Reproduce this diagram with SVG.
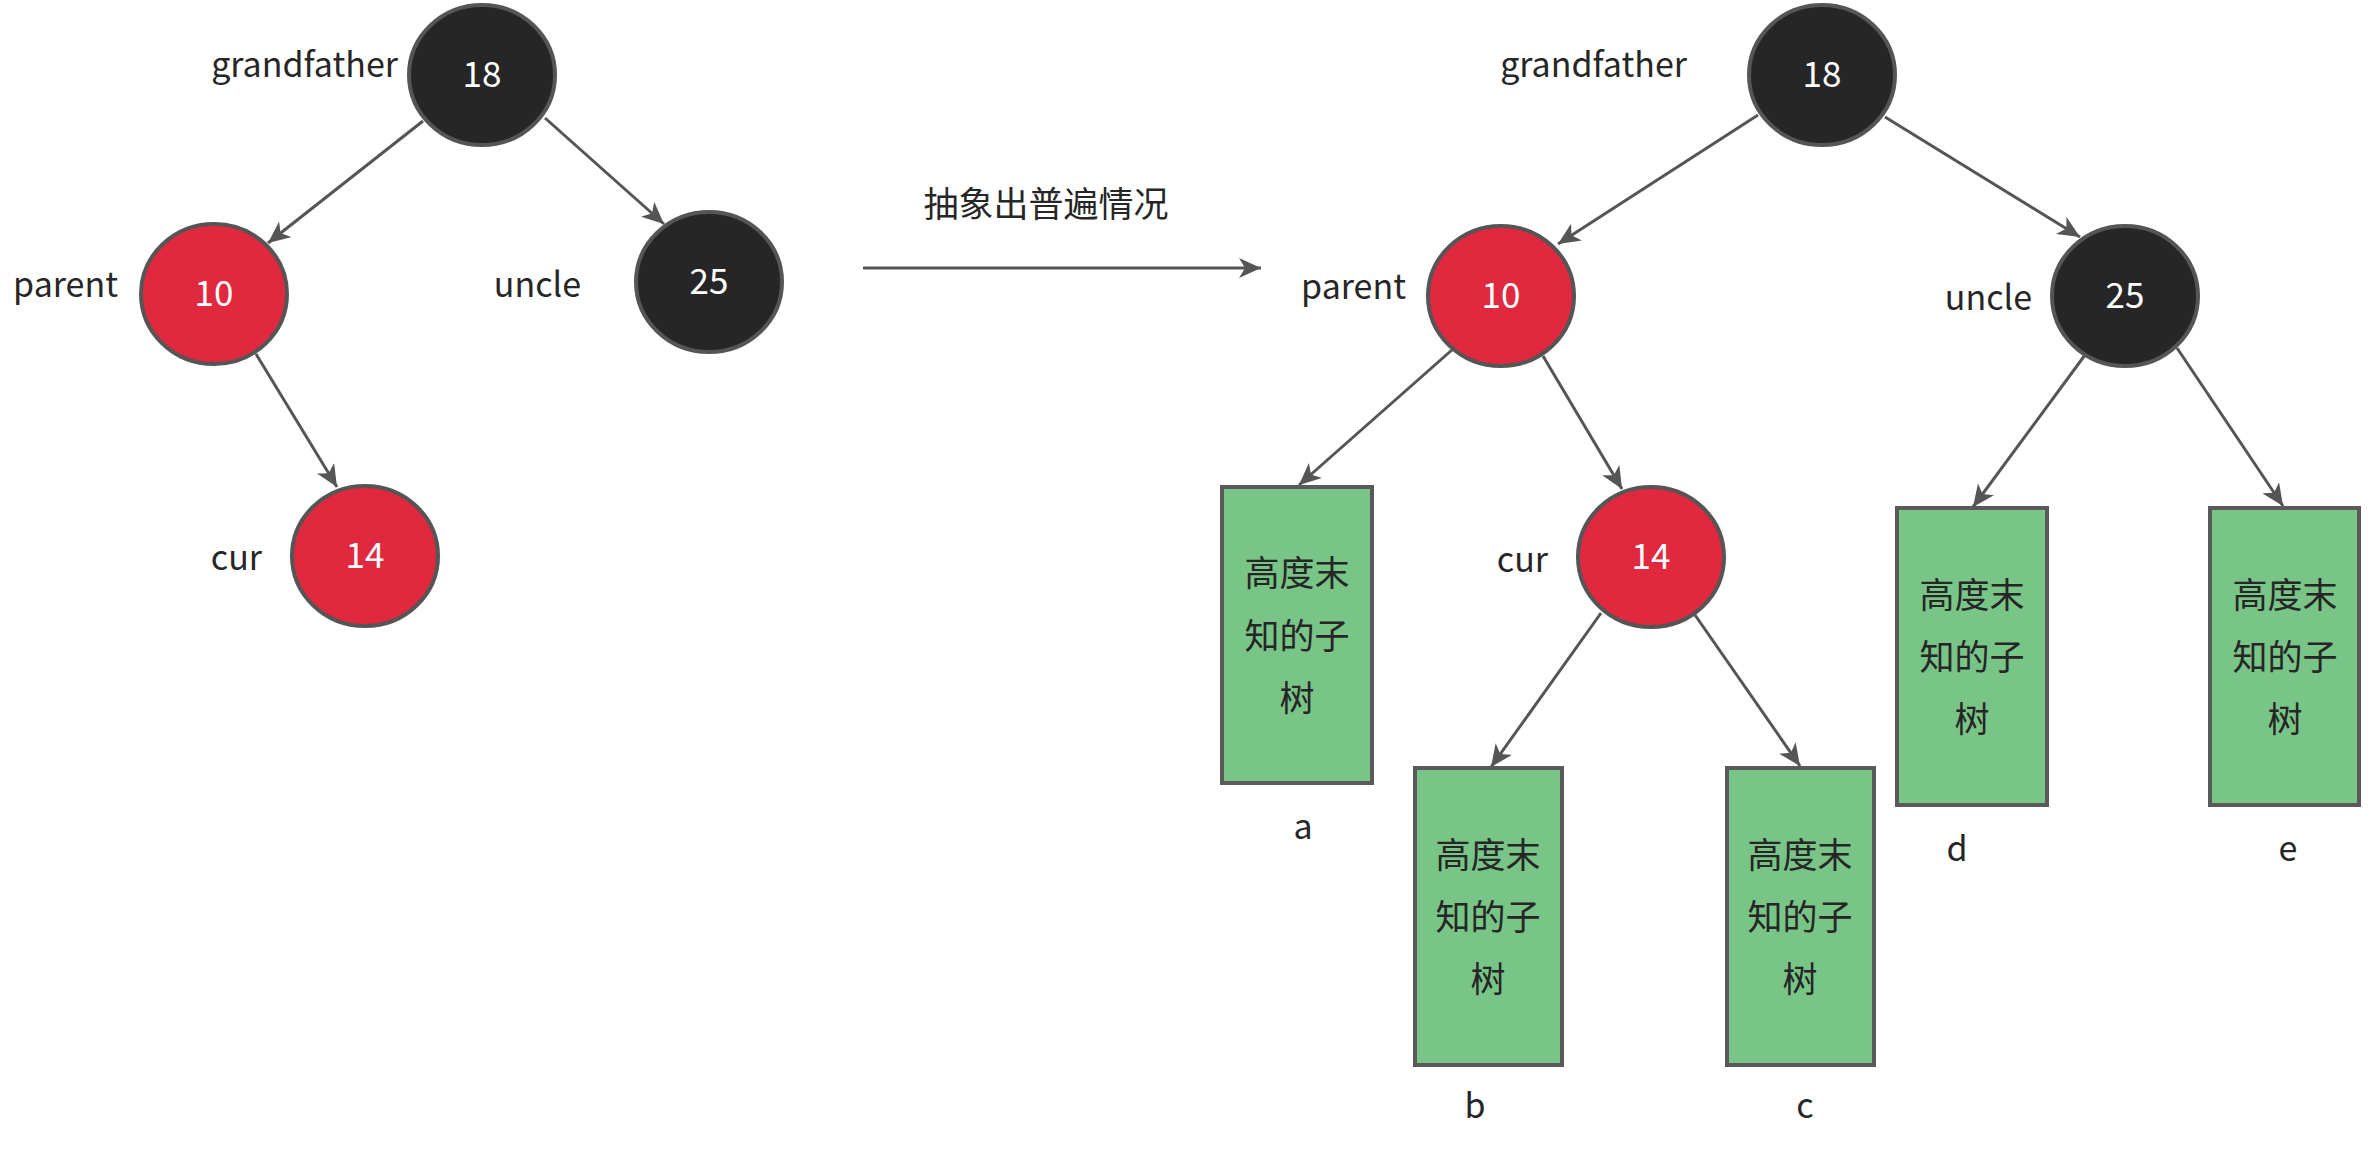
<svg xmlns="http://www.w3.org/2000/svg" width="2370" height="1150" viewBox="0 0 2370 1150">
<style>
text{font-family:"Noto Sans CJK SC","Liberation Sans",sans-serif;}
.lbl{font-size:34px;fill:#262626;text-anchor:end;}
.num{font-size:35px;fill:#ffffff;text-anchor:middle;}
.red{fill:#E0283F;stroke:#555555;stroke-width:4;}
.blk{fill:#262626;stroke:#555555;stroke-width:4;}
.box{fill:#79C487;stroke:#5A5A5A;stroke-width:4;}
.bt{font-size:35px;fill:#262626;text-anchor:middle;}
.tag{font-size:34px;fill:#262626;text-anchor:middle;}
.edge{stroke:#555555;stroke-width:3;fill:none;marker-end:url(#arr);}
</style>
<defs>
<marker id="arr" markerUnits="userSpaceOnUse" markerWidth="24" markerHeight="20" refX="22" refY="10" orient="auto">
<path d="M0,0 L22,10 L0,20 L6,10 Z" fill="#555555"/>
</marker>
</defs>
<rect width="2370" height="1150" fill="#ffffff"/>
<g id="connectors">
<line class="edge" x1="423" y1="121" x2="268" y2="243"/>
<line class="edge" x1="545" y1="118" x2="664" y2="224"/>
<line class="edge" x1="256" y1="354" x2="337" y2="487"/>
<line class="edge" x1="863" y1="268" x2="1261" y2="268"/>
<line class="edge" x1="1758" y1="115" x2="1558" y2="244"/>
<line class="edge" x1="1885" y1="117" x2="2080" y2="237"/>
<line class="edge" x1="1453" y1="349" x2="1299" y2="485"/>
<line class="edge" x1="1543" y1="356" x2="1622" y2="489"/>
<line class="edge" x1="1601" y1="613" x2="1491" y2="767"/>
<line class="edge" x1="1695" y1="615" x2="1800" y2="766"/>
<line class="edge" x1="2085" y1="355" x2="1973" y2="507"/>
<line class="edge" x1="2177" y1="348" x2="2283" y2="506"/>
</g>
<g id="caption"><text x="1046" y="217" style="font-size:35px;fill:#262626;text-anchor:middle">抽象出普遍情况</text></g>
<g id="L18"><ellipse class="blk" cx="482" cy="75" rx="73" ry="70"/><text class="num" x="482" y="87">18</text><text class="lbl" x="398" y="77">grandfather</text></g>
<g id="L10"><ellipse class="red" cx="214" cy="294" rx="73" ry="70"/><text class="num" x="214" y="306">10</text><text class="lbl" x="118" y="297">parent</text></g>
<g id="L25"><ellipse class="blk" cx="709" cy="282" rx="73" ry="70"/><text class="num" x="709" y="294">25</text><text class="lbl" x="581" y="297">uncle</text></g>
<g id="L14"><ellipse class="red" cx="365" cy="556" rx="73" ry="70"/><text class="num" x="365" y="568">14</text><text class="lbl" x="262" y="570">cur</text></g>
<g id="R18"><ellipse class="blk" cx="1822" cy="75" rx="73" ry="70"/><text class="num" x="1822" y="87">18</text><text class="lbl" x="1687" y="77">grandfather</text></g>
<g id="R10"><ellipse class="red" cx="1501" cy="296" rx="73" ry="70"/><text class="num" x="1501" y="308">10</text><text class="lbl" x="1406" y="299">parent</text></g>
<g id="R25"><ellipse class="blk" cx="2125" cy="296" rx="73" ry="70"/><text class="num" x="2125" y="308">25</text><text class="lbl" x="2032" y="310">uncle</text></g>
<g id="R14"><ellipse class="red" cx="1651" cy="557" rx="73" ry="70"/><text class="num" x="1651" y="569">14</text><text class="lbl" x="1548" y="572">cur</text></g>
<g id="boxA"><rect class="box" x="1222" y="487" width="150" height="296"/><text class="bt" x="1297" y="586">高度末</text><text class="bt" x="1297" y="649">知的子</text><text class="bt" x="1297" y="711">树</text><text class="tag" x="1303" y="839">a</text></g>
<g id="boxB"><rect class="box" x="1415" y="768" width="147" height="297"/><text class="bt" x="1488" y="868">高度末</text><text class="bt" x="1488" y="930">知的子</text><text class="bt" x="1488" y="992">树</text><text class="tag" x="1475" y="1118">b</text></g>
<g id="boxC"><rect class="box" x="1727" y="768" width="147" height="297"/><text class="bt" x="1800" y="868">高度末</text><text class="bt" x="1800" y="930">知的子</text><text class="bt" x="1800" y="992">树</text><text class="tag" x="1805" y="1118">c</text></g>
<g id="boxD"><rect class="box" x="1897" y="508" width="150" height="297"/><text class="bt" x="1972" y="608">高度末</text><text class="bt" x="1972" y="670">知的子</text><text class="bt" x="1972" y="732">树</text><text class="tag" x="1957" y="861">d</text></g>
<g id="boxE"><rect class="box" x="2210" y="508" width="149" height="297"/><text class="bt" x="2285" y="608">高度末</text><text class="bt" x="2285" y="670">知的子</text><text class="bt" x="2285" y="732">树</text><text class="tag" x="2288" y="861">e</text></g>
</svg>
